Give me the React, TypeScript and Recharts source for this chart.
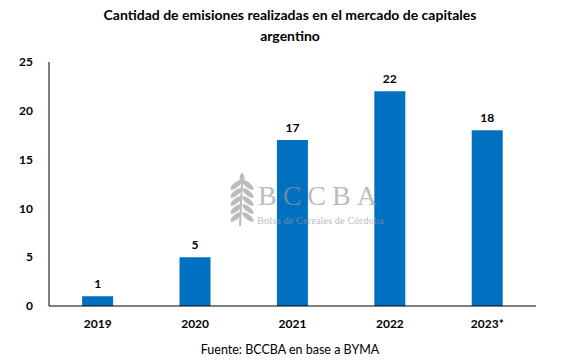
import React from "react";
import { BarChart, Bar, XAxis, YAxis, LabelList } from "recharts";

const categories = ["2019", "2020", "2021", "2022", "2023*"];
const emisiones = [1, 5, 17, 22, 18];
const yTicks = [0, 5, 10, 15, 20, 25];

const data = categories.map((c, i) => ({ year: c, value: emisiones[i] }));

const FONT = "Lato, 'Open Sans', sans-serif";
const WM = "#999999";

const Watermark = () => {
  const leaves = [];
  for (let i = 0; i < 5; i++) {
    const y = 185 + i * 8;
    leaves.push(
      <ellipse key={"l" + i} cx={236} cy={y} rx={7} ry={2.6} transform={`rotate(-40 236 ${y})`} fill={WM} />
    );
    leaves.push(
      <ellipse key={"r" + i} cx={248} cy={y} rx={7} ry={2.6} transform={`rotate(40 248 ${y})`} fill={WM} />
    );
  }
  return (
    <g opacity={0.65}>
      {leaves}
      <ellipse cx={242} cy={179} rx={2.5} ry={6} fill={WM} />
      <line x1={242} y1={182} x2={240} y2={226} stroke={WM} strokeWidth={2} />
      <text x={258} y={205} fontFamily="'Liberation Serif', serif" fontSize={28} fill={WM} letterSpacing={6}>
        BCCBA
      </text>
      <text x={257} y={224} fontFamily="'Liberation Serif', serif" fontSize={10.5} fill={WM}>
        Bolsa de Cereales de Córdoba
      </text>
    </g>
  );
};

export default function App() {
  return (
    <div style={{ position: "absolute", left: 0, top: 0, width: 568, height: 364, background: "#fff", fontFamily: FONT }}>
      <svg width={568} height={364} style={{ position: "absolute", left: 0, top: 0 }}>
        <text x={290} y={20} textAnchor="middle" fontFamily={FONT} fontWeight={700} fontSize={14} fill="#000">
          Cantidad de emisiones realizadas en el mercado de capitales
        </text>
        <text x={290} y={41} textAnchor="middle" fontFamily={FONT} fontWeight={700} fontSize={14} fill="#000">
          argentino
        </text>
        <text x={290} y={354} textAnchor="middle" fontFamily={FONT} fontSize={12.5} fill="#000">
          Fuente: BCCBA en base a BYMA
        </text>
      </svg>
      <div style={{ position: "absolute", left: 0, top: 0 }}>
        <BarChart
          width={568}
          height={364}
          data={data}
          margin={{ top: 62, right: 32, bottom: 28, left: 0 }}
          barCategoryGap="34%"
        >
          <XAxis
            dataKey="year"
            axisLine={{ stroke: "#000", strokeWidth: 1 }}
            tickLine={false}
            height={30}
            tick={{ fill: "#000", fontSize: 12, fontWeight: 700, fontFamily: FONT }}
            tickMargin={7}
          />
          <YAxis
            domain={[0, 25]}
            ticks={yTicks}
            width={49}
            axisLine={{ stroke: "#000", strokeWidth: 1 }}
            tickLine={false}
            tick={{ fill: "#000", fontSize: 12, fontWeight: 700, fontFamily: FONT }}
            tickMargin={10}
          />
          <Bar dataKey="value" fill="#0070C0" isAnimationActive={false}>
            <LabelList
              dataKey="value"
              position="top"
              offset={8}
              style={{ fill: "#000", fontSize: 12, fontWeight: 700, fontFamily: FONT }}
            />
          </Bar>
        </BarChart>
      </div>
      <svg width={568} height={364} style={{ position: "absolute", left: 0, top: 0, pointerEvents: "none" }}>
        <Watermark />
      </svg>
    </div>
  );
}
